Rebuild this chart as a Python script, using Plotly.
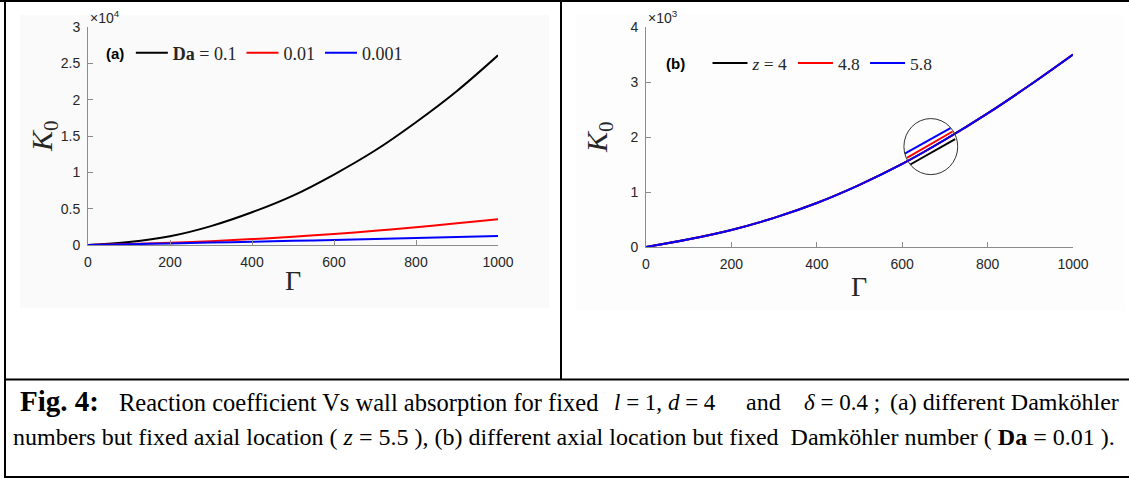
import plotly.graph_objects as go

W, H = 1129, 479

# ---------------- data ----------------
gamma = [0, 100, 200, 300, 400, 500, 600, 700, 800, 900, 1000]

# panel (a): fixed z = 5.5, different Da
a_names = ["<b>Da</b> = 0.1", "0.01", "0.001"]
a_k_da01 = [0, 400, 1200, 2600, 4500, 6800, 9700, 13000, 16900, 21200, 26100]
a_k_da001 = [0, 140, 310, 530, 810, 1140, 1520, 1960, 2450, 2980, 3540]
a_k_da0001 = [0, 100, 220, 330, 450, 570, 690, 820, 960, 1100, 1240]

# panel (b): fixed Da = 0.01, different z
b_names = ["<i>z</i> = 4", "4.8", "5.8"]
b_k_z4 = [0, 140, 310, 530, 800, 1130, 1510, 1950, 2430, 2950, 3500]
b_k_z48 = [0, 140, 310, 530, 800, 1130, 1510, 1950, 2430, 2950, 3500]
b_k_z58 = [0, 140, 310, 530, 800, 1130, 1510, 1950, 2430, 2950, 3500]

# magnified inset segments (inside the circle) for z = 4, 4.8, 5.8
inset_gamma_start = [619, 611, 606]
inset_gamma_end = [724, 718, 713]
inset_k_start = [1500, 1620, 1697]
inset_k_end = [1960, 2100, 2160]

# circle marking the magnified region (data units of panel b)
circle_gamma = [604, 730]
circle_k = [1316, 2335]

colors = ["#000000", "#ff0000", "#0000ff"]

a_ticks = [0, 200, 400, 600, 800, 1000]
a_yticks = [0, 5000, 10000, 15000, 20000, 25000, 30000]
a_yticktext = ["0", "0.5", "1", "1.5", "2", "2.5", "3"]
b_yticks = [0, 1000, 2000, 3000, 4000]
b_yticktext = ["0", "1", "2", "3", "4"]


def px(x):
    return x / W


def py(y):
    return 1 - y / H


fig = go.Figure()

for name, vals, c in zip(a_names, [a_k_da01, a_k_da001, a_k_da0001], colors):
    fig.add_trace(go.Scatter(x=gamma, y=vals, mode="lines", name=name,
                             line=dict(color=c, width=2, shape="spline"),
                             xaxis="x", yaxis="y", legend="legend"))

for name, vals, c in zip(b_names, [b_k_z4, b_k_z48, b_k_z58], colors):
    fig.add_trace(go.Scatter(x=gamma, y=vals, mode="lines", name=name,
                             line=dict(color=c, width=2, shape="spline"),
                             xaxis="x2", yaxis="y2", legend="legend2"))

for i, c in enumerate(colors):
    fig.add_trace(go.Scatter(x=[inset_gamma_start[i], inset_gamma_end[i]],
                             y=[inset_k_start[i], inset_k_end[i]],
                             mode="lines", showlegend=False,
                             line=dict(color=c, width=2),
                             xaxis="x2", yaxis="y2"))

axis_common = dict(showgrid=False, zeroline=False, showline=True,
                   linecolor="#8c8c8c", linewidth=1, ticks="inside",
                   ticklen=5, tickcolor="#8c8c8c", mirror=False,
                   tickfont=dict(family="Liberation Sans, Arial", size=14,
                                 color="#262626"))

nb = "&nbsp;"
fig.update_layout(
    width=W, height=H, autosize=False, margin=dict(l=0, r=0, t=0, b=0, autoexpand=False),
    paper_bgcolor="white", plot_bgcolor="rgba(0,0,0,0)",
    xaxis=dict(domain=[px(88), px(498)], range=[0, 1000], tickvals=a_ticks,
               anchor="y", ticklabelstandoff=4, **axis_common),
    yaxis=dict(domain=[py(245), py(27)], range=[0, 30000], tickvals=a_yticks,
               ticktext=a_yticktext, anchor="x", ticklabelstandoff=4,
               **axis_common),
    xaxis2=dict(domain=[px(646), px(1073)], range=[0, 1000], tickvals=a_ticks,
                anchor="y2", ticklabelstandoff=4, **axis_common),
    yaxis2=dict(domain=[py(247), py(27)], range=[0, 4000], tickvals=b_yticks,
                ticktext=b_yticktext, anchor="x2", ticklabelstandoff=4,
                **axis_common),
    legend=dict(x=px(100), y=py(53), xanchor="left", yanchor="middle",
                orientation="h", bgcolor="rgba(0,0,0,0)", itemwidth=32,
                font=dict(family="Liberation Serif, Times New Roman", size=18,
                          color="#262626"),
                title=dict(text=nb * 5, side="left",
                           font=dict(family="Liberation Sans, Arial", size=15,
                                     color="#000000"))),
    legend2=dict(x=px(660), y=py(63), xanchor="left", yanchor="middle",
                 orientation="h", bgcolor="rgba(0,0,0,0)", itemwidth=35,
                 font=dict(family="Liberation Serif, Times New Roman", size=17.5,
                           color="#262626"),
                 title=dict(text=nb * 9, side="left",
                            font=dict(family="Liberation Sans, Arial", size=15,
                                      color="#000000"))),
    showlegend=True,
)

shapes = []
# faint backgrounds of the two embedded figures
shapes.append(dict(type="rect", xref="paper", yref="paper", x0=px(20), x1=px(549),
                   y0=py(308), y1=py(15), fillcolor="#fafafa", line_width=0,
                   layer="below"))
shapes.append(dict(type="rect", xref="paper", yref="paper", x0=px(576), x1=px(1125),
                   y0=py(311), y1=py(15), fillcolor="#fdfdfd", line_width=0,
                   layer="below"))
# table borders
border = dict(color="#000000", width=2)
shapes.append(dict(type="line", xref="paper", yref="paper", x0=0, x1=1,
                   y0=py(1), y1=py(1), line=border))
shapes.append(dict(type="line", xref="paper", yref="paper", x0=px(5), x1=px(5),
                   y0=py(0), y1=py(478), line=border))
shapes.append(dict(type="line", xref="paper", yref="paper", x0=px(561), x1=px(561),
                   y0=py(0), y1=py(379), line=border))
shapes.append(dict(type="line", xref="paper", yref="paper", x0=px(5), x1=1,
                   y0=py(379.5), y1=py(379.5), line=border))
shapes.append(dict(type="line", xref="paper", yref="paper", x0=px(5), x1=1,
                   y0=py(477), y1=py(477), line=border))
# circle
shapes.append(dict(type="circle", xref="x2", yref="y2",
                   x0=circle_gamma[0], x1=circle_gamma[1],
                   y0=circle_k[0], y1=circle_k[1],
                   line=dict(color="#333333", width=1)))
fig.update_layout(shapes=shapes)

serif = "Liberation Serif, Times New Roman"
ann = []


def add(text, x, y, size, family=serif, xanchor="center", angle=0, color="#000000"):
    ann.append(dict(text=text, x=px(x), y=py(y), xref="paper", yref="paper",
                    xanchor=xanchor, yanchor="middle", showarrow=False,
                    textangle=angle, font=dict(family=family, size=size, color=color)))


# panel tags
add("<b>(a)</b>", 104, 53, 15, family="Liberation Sans, Arial", xanchor="left")
add("<b>(b)</b>", 664, 63, 15, family="Liberation Sans, Arial", xanchor="left")
# axis titles
add("<i>K</i><sub>0</sub>", 44, 136, 30, angle=-90, color="#262626")
add("Γ", 293, 280, 28, color="#262626")
add("<i>K</i><sub>0</sub>", 599, 137, 30, angle=-90, color="#262626")
add("Γ", 859, 286, 28, color="#262626")
# exponent labels
add("×10<sup>4</sup>", 88, 17, 14, family="Liberation Sans, Arial", xanchor="left", color="#262626")
add("×10<sup>3</sup>", 646, 17, 14, family="Liberation Sans, Arial", xanchor="left", color="#262626")

# caption line 1
add("<b>Fig. 4:</b>", 18, 401, 29, xanchor="left")
add("Reaction coefficient Vs wall absorption for fixed", 117, 402, 24.5, xanchor="left")
add("<i>l</i> = 1, <i>d</i> = 4", 612, 402, 23, xanchor="left")
add("and", 744, 402, 24, xanchor="left")
add("<i>δ</i> = 0.4 ;", 802, 402, 23, xanchor="left")
add("(a) different Damköhler", 1121, 402, 24, xanchor="right")
# caption line 2
add("numbers but fixed axial location ( <i>z</i> = 5.5 ), (b) different axial location "
    "but fixed  Damköhler number ( <b>Da</b> = 0.01 ).", 11, 437, 24, xanchor="left")

fig.update_layout(annotations=ann)

fig.write_html("out.html", config={"responsive": False})
